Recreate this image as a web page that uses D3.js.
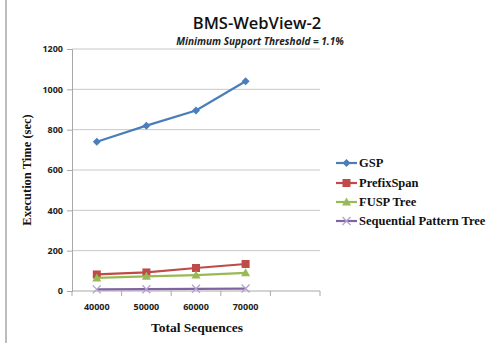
<!DOCTYPE html>
<html>
<head>
<meta charset="utf-8">
<script src="https://cdn.jsdelivr.net/npm/d3@7"></script>
<style>
  html, body { margin: 0; padding: 0; background: #fff; }
  svg { display: block; }
</style>
</head>
<body>
<svg id="chart" width="496" height="343"></svg>
<script>
// Execution time (sec) by total number of sequences, BMS-WebView-2
const categories = ["40000", "50000", "60000", "70000", ""];
const seriesNames = ["GSP", "PrefixSpan", "FUSP Tree", "Sequential Pattern Tree"];
const gspValues = [740, 820, 895, 1040];
const prefixSpanValues = [82, 92, 114, 134];
const fuspTreeValues = [65, 73, 79, 90];
const seqPatternTreeValues = [8, 9, 11, 12];
const yTicks = [0, 200, 400, 600, 800, 1000, 1200];

const colors = ["#4A7EBB", "#BE4B48", "#98B954", "#8064A2"];
const markers = ["diamond", "square", "triangle", "cross"];
const allValues = [gspValues, prefixSpanValues, fuspTreeValues, seqPatternTreeValues];

const svg = d3.select("#chart");
const plot = { left: 72, right: 320, top: 49, bottom: 291 };

// left page border
svg.append("line").attr("x1", 6).attr("x2", 6).attr("y1", 0).attr("y2", 343)
  .attr("stroke", "#bdbdbd").attr("stroke-width", 2);

const x = d3.scaleBand().domain(categories.map((c, i) => i)).range([plot.left, plot.right]);
const y = d3.scaleLinear().domain([0, 1200]).range([plot.bottom, plot.top]);

// gridlines
svg.append("g").selectAll("line").data(yTicks.filter(t => t > 0)).join("line")
  .attr("x1", plot.left).attr("x2", plot.right)
  .attr("y1", d => y(d)).attr("y2", d => y(d))
  .attr("stroke", "#c8c8c8").attr("stroke-width", 1);

// y axis
const yAxis = svg.append("g").attr("transform", `translate(${plot.left},0)`)
  .call(d3.axisLeft(y).tickValues(yTicks).tickFormat(d3.format("d")).tickSize(5).tickPadding(4));
yAxis.select(".domain").attr("stroke", "#a8a8a8");
yAxis.selectAll(".tick line").attr("stroke", "#a8a8a8");
yAxis.selectAll("text").attr("font-family", "Open Sans, Liberation Sans, sans-serif")
  .attr("font-size", 9).attr("font-weight", "bold").attr("fill", "#222");

// x axis (category ticks between bands)
const xAxisG = svg.append("g").attr("transform", `translate(0,${plot.bottom})`);
xAxisG.append("line").attr("x1", plot.left).attr("x2", plot.right)
  .attr("stroke", "#a8a8a8");
const boundaries = d3.range(categories.length + 1).map(i => plot.left + i * x.bandwidth());
xAxisG.selectAll("line.tk").data(boundaries).join("line").attr("class", "tk")
  .attr("x1", d => d).attr("x2", d => d).attr("y1", 0).attr("y2", 5)
  .attr("stroke", "#a8a8a8");
xAxisG.selectAll("text").data(categories).join("text")
  .attr("x", (d, i) => x(i) + x.bandwidth() / 2).attr("y", 19)
  .attr("text-anchor", "middle")
  .attr("font-family", "Open Sans, Liberation Sans, sans-serif")
  .attr("font-size", 9).attr("font-weight", "bold").attr("fill", "#222")
  .text(d => d);

// titles
svg.append("text").attr("x", 257).attr("y", 29).attr("text-anchor", "middle")
  .attr("font-family", "Open Sans, Liberation Sans, sans-serif")
  .attr("font-size", 16.5).attr("font-weight", 600).attr("fill", "#111").text("BMS-WebView-2");
svg.append("text").attr("x", 260).attr("y", 45).attr("text-anchor", "middle")
  .attr("font-family", "Open Sans, Liberation Sans, sans-serif")
  .attr("font-size", 10).attr("font-style", "italic").attr("font-weight", "bold")
  .attr("fill", "#222").text("Minimum Support Threshold = 1.1%");

svg.append("text").attr("transform", "translate(31,170) rotate(-90)")
  .attr("text-anchor", "middle")
  .attr("font-family", "Liberation Serif, serif")
  .attr("font-size", 12.5).attr("font-weight", "bold").attr("fill", "#111")
  .text("Execution Time (sec)");
svg.append("text").attr("x", 197).attr("y", 332).attr("text-anchor", "middle")
  .attr("font-family", "Liberation Serif, serif")
  .attr("font-size", 13.5).attr("font-weight", "bold").attr("fill", "#111")
  .text("Total Sequences");

// marker drawing
function drawMarker(g, type, color, cx, cy) {
  if (type === "diamond") {
    g.append("path").attr("d", `M${cx},${cy - 4}L${cx + 4},${cy}L${cx},${cy + 4}L${cx - 4},${cy}Z`)
      .attr("fill", color);
  } else if (type === "square") {
    g.append("rect").attr("x", cx - 4).attr("y", cy - 4).attr("width", 8).attr("height", 8)
      .attr("fill", color);
  } else if (type === "triangle") {
    g.append("path").attr("d", `M${cx},${cy - 4.5}L${cx + 4.5},${cy + 3.5}L${cx - 4.5},${cy + 3.5}Z`)
      .attr("fill", color);
  } else {
    g.append("path").attr("d", `M${cx - 4},${cy - 4}L${cx + 4},${cy + 4}M${cx - 4},${cy + 4}L${cx + 4},${cy - 4}`)
      .attr("stroke", "#B3A2D0").attr("stroke-width", 1.3).attr("fill", "none");
  }
}

const line = d3.line().x((d, i) => x(i) + x.bandwidth() / 2).y(d => y(d));
allValues.forEach((vals, s) => {
  const g = svg.append("g");
  g.append("path").datum(vals).attr("d", line)
    .attr("fill", "none").attr("stroke", colors[s]).attr("stroke-width", 2.2);
  vals.forEach((v, i) => drawMarker(g, markers[s], colors[s], x(i) + x.bandwidth() / 2, y(v)));
});

// legend
const legendY = [163, 183, 202, 221];
seriesNames.forEach((name, s) => {
  const g = svg.append("g");
  g.append("line").attr("x1", 336).attr("x2", 357).attr("y1", legendY[s]).attr("y2", legendY[s])
    .attr("stroke", colors[s]).attr("stroke-width", 2.2);
  drawMarker(g, markers[s], colors[s], 346.5, legendY[s]);
  g.append("text").attr("x", 359).attr("y", legendY[s] + 4)
    .attr("font-family", "Liberation Serif, serif")
    .attr("font-size", 12.5).attr("font-weight", "bold").attr("fill", "#111")
    .text(name);
});
</script>
</body>
</html>
